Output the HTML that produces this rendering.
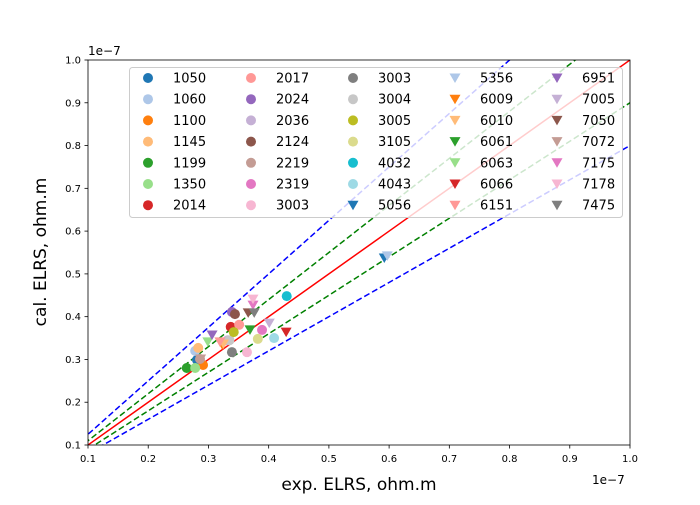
<!DOCTYPE html>
<html><head><meta charset="utf-8"><style>
body{margin:0;background:#fff;font-family:"Liberation Sans","DejaVu Sans",sans-serif}
svg text{font-family:"DejaVu Sans","Liberation Sans",sans-serif}
</style></head><body>
<svg id="chart" width="700" height="500" viewBox="0 0 700 500" xmlns="http://www.w3.org/2000/svg">
<defs><clipPath id="clip"><rect x="88" y="60" width="542" height="385"/></clipPath></defs>
<rect x="0" y="0" width="700" height="500" fill="#fff"/>
<g id="lines" clip-path="url(#clip)"></g>
<g id="points" clip-path="url(#clip)"></g>
<rect x="88" y="60" width="542" height="385" fill="none" stroke="#000" stroke-width="0.8"/>
<g id="axes"></g>
<text x="88" y="55" font-size="12">1e−7</text>
<text x="592" y="484" font-size="12">1e−7</text>
<text x="359" y="490" font-size="17" text-anchor="middle">exp. ELRS, ohm.m</text>
<text transform="translate(46,252) rotate(-90)" font-size="17" text-anchor="middle">cal. ELRS, ohm.m</text>
<g id="legend"></g>
</svg>
<script>
const labels=["1050","1060","1100","1145","1199","1350","2014","2017","2024","2036","2124","2219","2319","3003","3003","3004","3005","3105","4032","4043","5056","5356","6009","6010","6061","6063","6066","6151","6951","7005","7050","7072","7175","7178","7475"];
const xVals=[0.281,0.278,0.291,0.283,0.264,0.278,0.337,0.351,0.339,0.332,0.344,0.286,0.389,0.364,0.339,0.335,0.342,0.382,0.430,0.409,0.592,0.597,0.323,0.325,0.369,0.299,0.429,0.319,0.306,0.401,0.366,0.287,0.374,0.374,0.376];
const yVals=[0.299,0.320,0.287,0.327,0.280,0.280,0.376,0.381,0.411,0.345,0.406,0.301,0.369,0.317,0.317,0.345,0.364,0.348,0.448,0.350,0.537,0.542,0.334,0.336,0.369,0.341,0.364,0.341,0.357,0.385,0.409,0.301,0.427,0.441,0.409];
const ticks=[0.1,0.2,0.3,0.4,0.5,0.6,0.7,0.8,0.9,1.0];
const slopes=[1,1.1,0.9,1.25,0.8];
const palette=["#1f77b4","#aec7e8","#ff7f0e","#ffbb78","#2ca02c","#98df8a","#d62728","#ff9896","#9467bd","#c5b0d5","#8c564b","#c49c94","#e377c2","#f7b6d2","#7f7f7f","#c7c7c7","#bcbd22","#dbdb8d","#17becf","#9edae5"];
const NS="http://www.w3.org/2000/svg";
const X=v=>88+(v-0.1)/0.9*542, Y=v=>445-(v-0.1)/0.9*385;
function mk(t,a,p){const e=document.createElementNS(NS,t);for(const k in a)e.setAttribute(k,a[k]);p.appendChild(e);return e;}
const col=i=>palette[i%20], tri=i=>i>=20;
function marker(i,cx,cy,p){
  let e;
  if(tri(i)){e=mk("polygon",{points:`${cx-5.5},${cy-4.5} ${cx+5.5},${cy-4.5} ${cx},${cy+5}`,fill:col(i)},p);}
  else{e=mk("circle",{cx:cx,cy:cy,r:5,fill:col(i)},p);}
  return e;
}
const pts=document.getElementById("points");
xVals.forEach((v,i)=>{const m=marker(i,X(v),Y(yVals[i]),pts);

});
const lg=document.getElementById("lines");
const lstyle=[["#ff0000",""],["#008000","6,3"],["#008000","6,3"],["#0000ff","6,3"],["#0000ff","6,3"]];
slopes.forEach((s,i)=>{const l=mk("line",{x1:X(0),y1:Y(0),x2:X(1.2),y2:Y(1.2*s),stroke:lstyle[i][0],"stroke-width":1.5,"stroke-dasharray":lstyle[i][1]},lg);

});
const ax=document.getElementById("axes");
ticks.forEach(t=>{
  mk("line",{x1:X(t),y1:445,x2:X(t),y2:448.5,stroke:"#000","stroke-width":0.8},ax);
  const tx=mk("text",{x:X(t),y:462,"font-size":10,"text-anchor":"middle"},ax);tx.textContent=t.toFixed(1);
  
  
  mk("line",{x1:84.5,y1:Y(t),x2:88,y2:Y(t),stroke:"#000","stroke-width":0.8},ax);
  const ty=mk("text",{x:81,y:Y(t)+3.5,"font-size":10,"text-anchor":"end"},ax);ty.textContent=t.toFixed(1);
  
  
});
const leg=document.getElementById("legend");
mk("rect",{x:129.5,y:67.5,width:493,height:150,rx:3,fill:"#fff","fill-opacity":0.8,stroke:"#ccc"},leg);
const colM=[148,251,353,455,557];
labels.forEach((lb,i)=>{
  const c=Math.floor(i/7), r=i%7, y=78+r*21.2;
  const m=marker(i,colM[c],y,leg);
  
  
  const t=mk("text",{x:colM[c]+25,y:y+4.5,"font-size":13},leg);t.textContent=lb;
  
  
});
</script>
</body></html>
